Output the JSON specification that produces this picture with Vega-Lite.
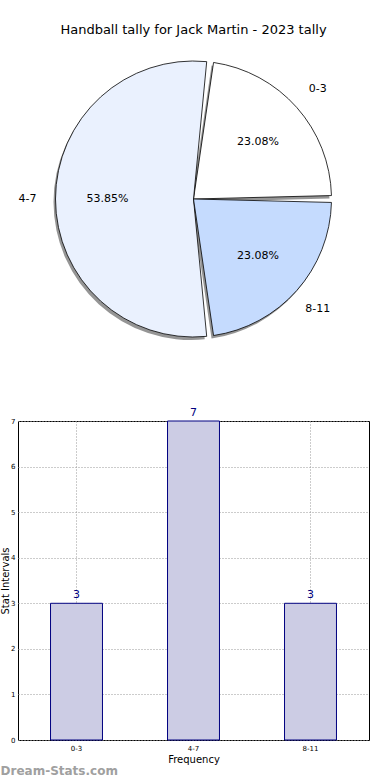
{
  "$schema": "https://vega.github.io/schema/vega-lite/v6.json",
  "padding": {"top": 24, "left": 0, "right": 0, "bottom": 0},
  "bounds": "flush",
  "spacing": 64,
  "background": "white",
  "config": {"font": "DejaVu Sans", "view": {"stroke": null}},
  "datasets": {
    "tally": [
      {"interval": "0-3", "count": 3, "pct": "23.08%"},
      {"interval": "4-7", "count": 7, "pct": "53.85%"},
      {"interval": "8-11", "count": 3, "pct": "23.08%"}
    ]
  },
  "vconcat": [
    {
      "width": 351,
      "height": 316,
      "title": {"text": "Handball tally for Jack Martin - 2023 tally", "fontSize": 13, "fontWeight": "normal", "font": "DejaVu Sans", "offset": 4, "anchor": "middle", "color": "black"},
      "data": {"name": "tally"},
      "encoding": {
        "theta": {"field": "count", "type": "quantitative", "stack": true, "scale": {"range": [1.5708, -4.7124]}},
        "order": {"field": "interval", "type": "ordinal"}
      },
      "layer": [
        {
          "mark": {"type": "arc", "outerRadius": 138, "padAngle": 0.05, "fill": "#8a8a8a", "xOffset": -2, "yOffset": 3, "opacity": 0.9},
          "encoding": {"detail": {"field": "interval"}}
        },
        {
          "mark": {"type": "arc", "outerRadius": 138, "padAngle": 0.05, "stroke": "black", "strokeWidth": 0.8},
          "encoding": {
            "color": {"field": "interval", "type": "nominal", "legend": null, "scale": {"domain": ["0-3", "4-7", "8-11"], "range": ["#ffffff", "#eaf1fe", "#c5dbfe"]}},
            "fillOpacity": {"value": 1}
          }
        },
        {
          "mark": {"type": "text", "radius": 166, "fontSize": 11, "font": "DejaVu Sans", "color": "black"},
          "encoding": {"text": {"field": "interval"}, "detail": {"field": "interval"}}
        },
        {
          "mark": {"type": "text", "radius": 86, "fontSize": 11, "font": "DejaVu Sans", "color": "black"},
          "encoding": {"text": {"field": "pct"}, "detail": {"field": "interval"}}
        }
      ]
    },
    {
      "width": 351,
      "height": 319,
      "title": {"text": "Dream-Stats.com", "orient": "bottom", "anchor": "start", "frame": "bounds", "fontSize": 12, "fontWeight": "bold", "color": "#a0a0a0", "offset": 2, "font": "DejaVu Sans"},
      "view": {"stroke": "black", "strokeWidth": 1},
      "data": {"name": "tally"},
      "encoding": {
        "x": {"field": "interval", "type": "nominal", "sort": ["0-3", "4-7", "8-11"],
              "scale": {"paddingInner": 0.556, "paddingOuter": 0.278},
              "axis": {"title": "Frequency", "titleFontSize": 10, "titleFontWeight": "normal", "titlePadding": 3, "labelFontSize": 7, "labelAngle": 0, "ticks": false, "labelPadding": 4, "grid": true, "bandPosition": 0.5, "gridDash": [1, 2], "gridColor": "#999", "domain": false, "labelColor": "black", "titleColor": "black"}},
        "y": {"field": "count", "type": "quantitative", "scale": {"domain": [0, 7]},
              "axis": {"title": "Stat Intervals", "titleFontSize": 10, "titleFontWeight": "normal", "titlePadding": 0, "labelFontSize": 7, "tickCount": 8, "ticks": false, "labelPadding": 3, "grid": true, "gridDash": [1, 2], "gridColor": "#999", "domain": false, "labelColor": "black", "titleColor": "black"}}
      },
      "layer": [
        {"mark": {"type": "bar", "fill": "#ccccE4", "stroke": "#000080", "strokeWidth": 1}},
        {"mark": {"type": "text", "baseline": "bottom", "dy": -3, "fontSize": 11, "color": "#000080"}, "encoding": {"text": {"field": "count"}}}
      ]
    }
  ]
}
